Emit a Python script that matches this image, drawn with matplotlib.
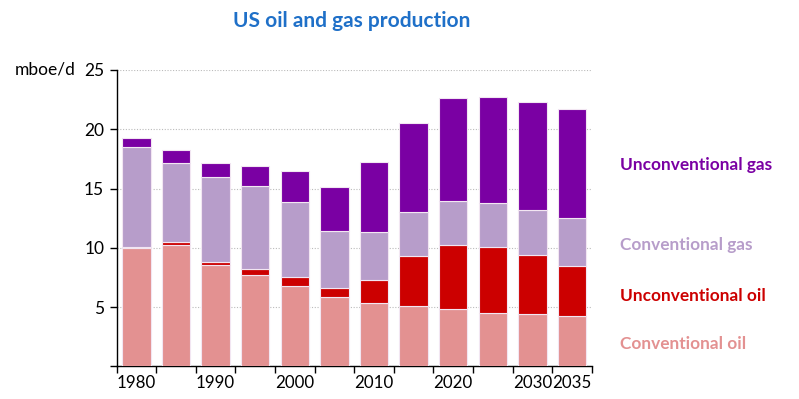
import matplotlib
matplotlib.use("Agg")
import matplotlib.pyplot as plt
import numpy as np

years = [1980, 1985, 1990, 1995, 2000, 2005, 2010, 2015, 2020, 2025, 2030, 2035]
conv_oil = [9.98, 10.24, 8.52, 7.71, 6.78, 5.85, 5.31, 5.06, 4.81, 4.53, 4.39, 4.25]
unconv_oil = [0.09, 0.25, 0.25, 0.50, 0.76, 0.76, 1.97, 4.25, 5.43, 5.54, 5.00, 4.21]
conv_gas = [8.43, 6.66, 7.20, 6.98, 6.30, 4.81, 4.02, 3.71, 3.71, 3.74, 3.77, 4.03]
unconv_gas = [0.76, 1.07, 1.16, 1.68, 2.64, 3.74, 5.97, 7.48, 8.66, 8.91, 9.17, 9.19]
series_names = ["Conventional oil", "Unconventional oil", "Conventional gas", "Unconventional gas"]
xtick_labels = ["1980", "", "1990", "", "2000", "", "2010", "", "2020", "", "2030", "2035"]
yticks = [0, 5, 10, 15, 20, 25]
ytick_labels = ["", "5", "10", "15", "20", "25"]

colors = ["#E39191", "#CC0000", "#B79DCA", "#7A00A3"]
plt.rcParams['font.family'] = ['Lato', 'DejaVu Sans']

fig = plt.figure(figsize=(7.99, 3.99), dpi=100)
ax = fig.add_axes([0.146, 0.082, 0.5946, 0.7426])

x = np.arange(len(years))
bottom = np.zeros(len(years))
for vals, c in zip([conv_oil, unconv_oil, conv_gas, unconv_gas], colors):
    ax.bar(x, vals, width=0.72, bottom=bottom, color=c, edgecolor="#F2E6F2", linewidth=0.8, zorder=3)
    bottom += np.array(vals)

ax.set_xlim(-0.5, len(years) - 0.5)
ax.set_ylim(0, 25)
ax.set_yticks(yticks)
ax.set_yticklabels(ytick_labels, fontsize=12.5)
ax.set_xticks(x)
ax.set_xticklabels(xtick_labels, fontsize=12.2)
ax.tick_params(axis='x', which='major', length=0, pad=6)
ax.set_xticks(np.arange(-0.5, len(years), 1.0), minor=True)
ax.tick_params(axis='x', which='minor', length=5, direction='out', width=1)
ax.tick_params(axis='y', length=5, direction='out', width=1, pad=4)
for s in ["top", "right"]:
    ax.spines[s].set_visible(False)
ax.spines["left"].set_linewidth(1)
ax.spines["bottom"].set_linewidth(1)
ax.yaxis.grid(True, linestyle=(0, (1, 1.5)), color="#BBBBBB", linewidth=0.8, zorder=0)
ax.set_axisbelow(True)

fig.text(0.018, 0.825, "mboe/d", fontsize=12.5, va="center", ha="left")
fig.text(0.44, 0.948, "US oil and gas production", fontsize=15, fontweight="bold",
         color="#1F70C8", ha="center", va="center")

label_y = [344, 296, 245, 165]
for name, c, yy in zip(series_names, colors, label_y):
    fig.text(620 / 799, 1 - yy / 399, name, fontsize=12.4, fontweight="bold", color=c,
             ha="left", va="center")

fig.savefig("out.png", dpi=100)
